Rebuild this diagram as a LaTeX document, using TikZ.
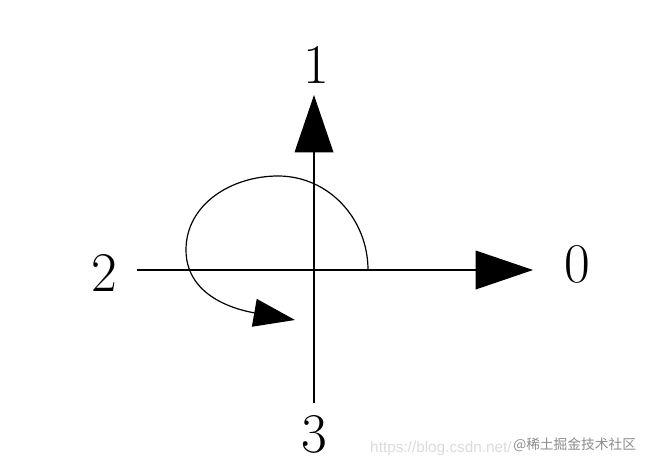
\documentclass[tikz,border=0pt]{standalone}
\usepackage{fontspec}
\newfontfamily\cjk{Noto Sans CJK SC}
\newfontfamily\arialike{Liberation Sans}
\usetikzlibrary{arrows.meta}
\begin{document}
\begin{tikzpicture}[x=0.75pt,y=0.75pt]
    \tikzstyle{axis}=[draw=black, line width=1.1pt]
    \tikzstyle{bigtip}=[-{Triangle[length=43pt,width=29pt]}]
    \tikzstyle{smalltip}=[-{Triangle[length=31pt,width=21pt]}]
    \tikzstyle{num}=[font=\fontsize{42}{42}\selectfont, inner sep=0pt]
    \useasboundingbox (-314,-198) rectangle (334,270);

    \coordinate (O)     at (0,0);
    \coordinate (west)  at (-177,0);
    \coordinate (east)  at (219,0);
    \coordinate (north) at (0,175);
    \coordinate (south) at (0,-133);
    \coordinate (start) at (54,0);
    \coordinate (top)   at (-36,94);
    \coordinate (left)  at (-128,20);
    \coordinate (stop)  at (-19,-50);

    \node[num] (zero)  at (263,6)    {0};
    \node[num] (one)   at (2,205)    {1};
    \node[num] (two)   at (-210,-3)  {2};
    \node[num] (three) at (0,-164)   {3};

    \draw[axis,bigtip] (west) -- (east);
    \draw[axis,bigtip] (south) -- (north);

    \draw[line width=0.9pt,smalltip] (start) to[out=90,in=0] (top)
                                      to[out=180,in=90] (left)
                                      to[out=-90,in=170] (stop);

    \node[text=black!14, font=\arialike\fontsize{11.5}{11.5}\selectfont, anchor=east, inner sep=0pt] (csdn) at (198,-179) {https://blog.csdn.net/};
    \node[text=black!45, font=\cjk\fontsize{10.3}{10.3}\selectfont, anchor=west, inner sep=0pt] (juejin) at (199,-175) {@稀土掘金技术社区};
\end{tikzpicture}
\end{document}
